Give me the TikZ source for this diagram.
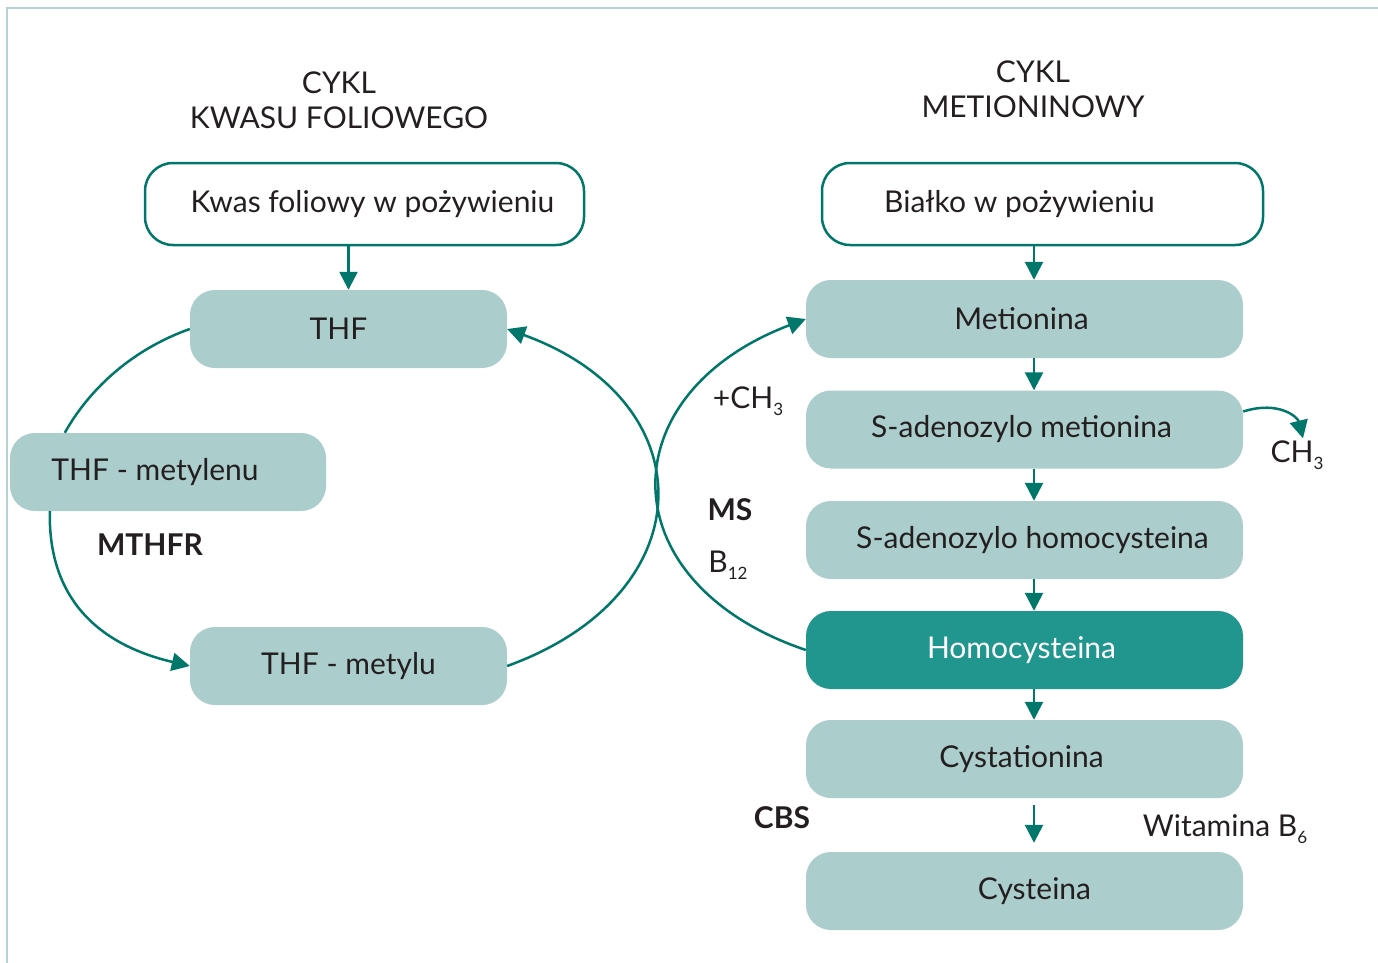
\documentclass[tikz,border=0pt]{standalone}
\usepackage{fontspec}
\setmainfont{Lato}
\usetikzlibrary{arrows.meta}
\definecolor{tealdark}{HTML}{00776A}
\definecolor{tealbox}{HTML}{21968E}
\definecolor{tealpale}{HTML}{ABCDCC}
\definecolor{frameline}{HTML}{B4D3D1}
\definecolor{ink}{HTML}{231F20}
\newcommand\lowidx[1]{\raisebox{-7pt}{\fontsize{17}{17}\selectfont #1}}

\begin{document}
\begin{tikzpicture}[x=1pt,y=-1pt,>={Triangle[length=18pt,width=18pt]},
  every node/.style={font=\fontsize{30}{35}\selectfont,text=ink,inner sep=2pt},
  food/.style={draw=tealdark,line width=2.5pt,fill=white,rounded corners=28pt,minimum width=439pt,minimum height=82pt},
  pale/.style={fill=tealpale,rounded corners=25pt,minimum height=78pt},
  enzyme/.style={font=\fontsize{30}{35}\selectfont\bfseries},
  arrowline/.style={->,draw=tealdark,line width=2.5pt},
  loopline/.style={draw=tealdark,line width=2.5pt}]
\useasboundingbox (0,0) rectangle (1378,963);
\draw[frameline,line width=1.5pt] (7,963) -- (7,8) -- (1378,8);

\node[align=center] (titleL) at (339,100) {CYKL\\KWASU FOLIOWEGO};
\node[align=center] (titleR) at (1033,89) {CYKL\\METIONINOWY};

\node[food] (kwas) at (364.5,204) {\hspace*{16pt}Kwas foliowy w pożywieniu};
\node[food,minimum width=441pt] (bialko) at (1042.5,204) {Białko w pożywieniu\hspace*{46pt}};

\node[pale,minimum width=317pt] (thf) at (348.5,329) {THF\hspace*{20pt}};
\node[pale,minimum width=316pt] (mety) at (168,472) {THF - metylenu\hspace*{26pt}};
\node[pale,minimum width=317pt] (metl) at (348.5,666) {THF - metylu};
\node[enzyme] (mthfr) at (150,545) {MTHFR};

\node[pale,minimum width=437pt] (met) at (1024.5,319) {Metionina\hspace*{6pt}};
\node[pale,minimum width=437pt] (sam) at (1024.5,429.5) {S-adenozylo metionina\hspace*{6pt}};
\node[pale,minimum width=437pt] (sah) at (1024.5,540) {\hspace*{16pt}S-adenozylo homocysteina};
\node[pale,minimum width=437pt,fill=tealbox,text=white] (hc) at (1024.5,650) {Homocysteina\hspace*{6pt}};
\node[pale,minimum width=437pt] (cyst) at (1024.5,759) {Cystationina\hspace*{6pt}};
\node[pale,minimum width=437pt] (cys) at (1024.5,891) {\hspace*{20pt}Cysteina};

\node (plusch) at (748,401) {+CH\lowidx{3}};
\node[enzyme] (ms) at (730,510) {MS};
\node (b12) at (728,565) {B\lowidx{12}};
\node (ch3) at (1297,455) {CH\lowidx{3}};
\node[enzyme] (cbs) at (782,818) {CBS};
\node (b6) at (1225,829) {Witamina B\lowidx{6}};

\coordinate (ax) at (1034,0);
\draw[arrowline] (kwas.south -| thf.north) -- (thf.north);
\draw[arrowline] (bialko.south -| ax) -- (met.north -| ax);
\draw[arrowline] (met.south -| ax) -- (sam.north -| ax);
\draw[arrowline] (sam.south -| ax) -- (sah.north -| ax);
\draw[arrowline] (sah.south -| ax) -- (hc.north -| ax);
\draw[arrowline] (hc.south -| ax) -- (cyst.north -| ax);
\draw[arrowline,shorten <=7pt,shorten >=9pt] (cyst.south -| ax) -- (cys.north -| ax);

\draw[loopline] (thf.west) .. controls (128,351) and (87,393) .. ([xshift=55pt]mety.north west);
\draw[loopline,->] ([xshift=40pt]mety.south west) .. controls (48,600) and (100,645) .. (metl.west);
\draw[loopline,->] (metl.east) .. controls (706,594) and (706,401) .. (thf.east);
\draw[loopline,->] (hc.west) .. controls (608,583) and (608,394) .. (met.west);
\draw[loopline,->] ([yshift=18pt]sam.east) .. controls (1280,400) and (1298,418) .. ([xshift=6pt]ch3.north);
\end{tikzpicture}
\end{document}
